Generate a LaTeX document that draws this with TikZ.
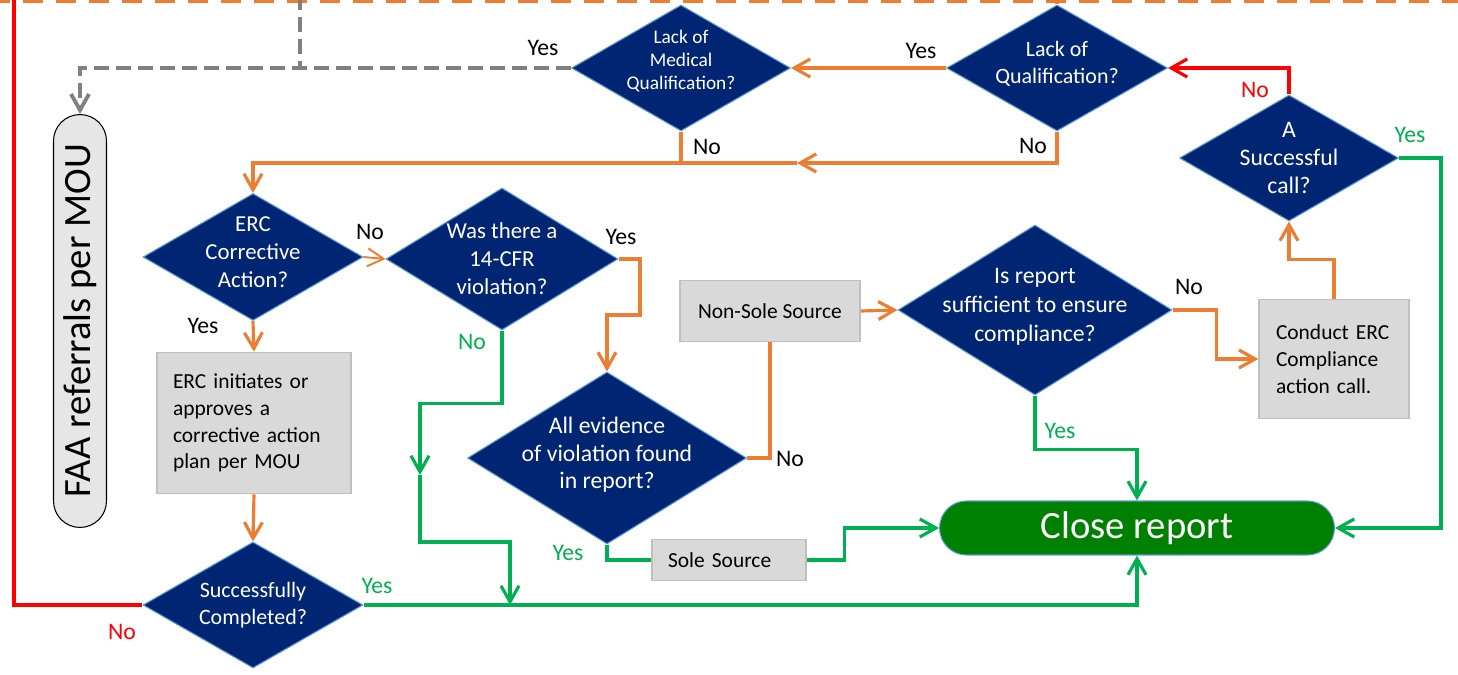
\documentclass[tikz,border=0pt]{standalone}
\usepackage{fontspec}
\setmainfont{Carlito}
\usetikzlibrary{shapes.geometric,arrows.meta,positioning}

\definecolor{qblue}{RGB}{0,38,115}
\definecolor{qedge}{RGB}{91,155,213}
\definecolor{flowor}{RGB}{237,125,49}
\definecolor{flowgr}{RGB}{0,176,80}
\definecolor{flowrd}{RGB}{255,0,0}
\definecolor{flowgy}{RGB}{128,128,128}
\definecolor{boxfill}{RGB}{217,217,217}
\definecolor{boxedge}{RGB}{191,191,191}
\definecolor{faafill}{RGB}{231,230,230}
\definecolor{closegr}{RGB}{0,128,0}

\tikzstyle{decision} = [diamond, draw=qedge, line width=0.6pt, fill=qblue, text=white, align=center, inner sep=-14pt, font=\fontsize{13}{16}\selectfont]
\tikzstyle{block} = [rectangle, draw=boxedge, line width=0.9pt, fill=boxfill, font=\fontsize{12.2}{15.2}\selectfont]
\tikzstyle{terminal} = [rectangle, rounded corners=0.54cm, draw=qedge, line width=0.6pt, fill=closegr, text=white, font=\fontsize{22}{26}\selectfont]
\tikzstyle{arrow} = [draw, line width=1.8pt, -{Straight Barb[length=3.2mm,width=3.6mm]}]
\tikzstyle{line} = [draw, line width=1.8pt]
\tikzstyle{answer} = [inner sep=0pt, font=\fontsize{13.5}{16}\selectfont]

\begin{document}
\begin{tikzpicture}[x=0.02cm, y=-0.02cm]
    \useasboundingbox (0,0) rectangle (1458,675);

    % questions
    \node[decision, minimum width=4.38cm, minimum height=2.52cm, text depth=0.33cm, font=\fontsize{11}{13.2}\selectfont] (lmq) at (681,68) {Lack of\\Medical\\Qualification?};
    \node[decision, minimum width=4.42cm, minimum height=2.52cm, text depth=0.21cm, font=\fontsize{12.5}{15.5}\selectfont] (loq) at (1057,68) {Lack of\\Qualification?};
    \node[decision, minimum width=4.38cm, minimum height=2.52cm, font=\fontsize{13.5}{15.8}\selectfont] (asc) at (1289,158) {A\\Successful\\call?};
    \node[decision, minimum width=4.4cm, minimum height=2.54cm, text depth=0.2cm] (ercq) at (253,257) {ERC\\Corrective\\Action?};
    \node[decision, minimum width=4.64cm, minimum height=2.84cm] (was) at (502,259) {Was there a\\14-CFR\\violation?};
    \node[decision, minimum width=5.58cm, minimum height=3.44cm, text depth=0.2cm, font=\fontsize{13.5}{15.8}\selectfont] (allev) at (607,458) {All evidence\\of violation found\\in report?};
    \node[decision, minimum width=5.48cm, minimum height=3.4cm, text depth=0.2cm, font=\fontsize{13.5}{16.5}\selectfont] (isrep) at (1035,310) {Is report\\sufficient to ensure\\compliance?};
    \node[decision, minimum width=4.4cm, minimum height=2.52cm, font=\fontsize{12.5}{15}\selectfont] (sc) at (253,605) {Successfully\\Completed?};

    % actions
    \node[block, minimum width=3.88cm, minimum height=2.82cm, inner xsep=0.32cm, text width=3.24cm, align=left] (ercbox) at (254,423) {ERC initiates or\\approves a\\corrective action\\plan per MOU};
    \node[block, minimum width=3.6cm, minimum height=1.22cm] (nonsole) at (770,311) {Non-Sole Source};
    \node[block, minimum width=3.08cm, minimum height=0.82cm, inner xsep=0.32cm, text width=2.44cm, align=left] (sole) at (729,560) {Sole Source};
    \node[block, minimum width=3cm, minimum height=2.38cm, inner xsep=0.34cm, text width=2.32cm, align=left] (conduct) at (1334,359) {Conduct ERC\\Compliance\\action call.};
    \node[terminal, minimum width=7.9cm, minimum height=1.08cm] (close) at (1137,528) {Close report};
    \node[rectangle, rounded corners=0.53cm, draw=black, line width=0.6pt, fill=faafill, rotate=90, minimum width=8.26cm, minimum height=1.06cm, inner sep=0pt, font=\fontsize{22}{26}\selectfont] (faa) at (80,321) {FAA referrals per MOU};

    % free ends
    \coordinate (topl) at (-10,1);
    \coordinate (topr) at (1470,1);
    \coordinate (grayup) at (300,-5);
    \coordinate (redup) at (14,-5);
    \coordinate (nojoin) at (797,163);
    \coordinate (yesbend) at (640,315);
    \coordinate (nodrop) at (420,475);
    \coordinate (nomerge) at (510,605);

    % lines
    \draw[line, flowor, line width=2.8pt, dash pattern=on 0.4cm off 0.26cm] (topl) -- (topr);
    \draw[line, flowor, line width=2.8pt] (loq.north) -- (loq.north |- topr);
    \draw[line, flowgy, line width=2.2pt, dash pattern=on 0.3cm off 0.14cm] (grayup) -- (grayup |- lmq.west);
    \draw[arrow, flowgy, line width=2.2pt, dash pattern=on 0.3cm off 0.14cm] (lmq.west) -| (faa.east);
    \draw[line, flowrd] (sc.west) -| (redup);

    \draw[arrow, flowor] (loq.west) -- (lmq.east);
    \draw[arrow, flowor] (loq.south) |- (nojoin);
    \draw[line, flowor] (lmq.south) -- (lmq.south |- nojoin);
    \draw[arrow, flowor] (nojoin) -| (ercq.north);
    \draw[arrow, flowor, line width=1.1pt] (ercq.east) -- (was.west);
    \draw[arrow, flowor] (ercq.south) -- (ercbox.north);
    \draw[arrow, flowor] (ercbox.south) -- (sc.north);
    \draw[arrow, flowor] (was.east) -| (yesbend) -| (allev.north);
    \draw[line, flowor] (allev.east) -| (nonsole.south);
    \draw[arrow, flowor] (nonsole.east) -- (isrep.west);
    \draw[arrow, flowor] (isrep.east) -- ++(44,0) |- (conduct.west);
    \draw[arrow, flowor] (conduct.north) -- ++(0,-39) -| (asc.south);
    \draw[arrow, flowrd] (asc.north) |- (loq.east);

    \draw[arrow, flowgr] (asc.east) -- ++(42,0) |- (close.east);
    \draw[arrow, flowgr] (isrep.south) -- ++(0,54) -| (close.north);
    \draw[arrow, flowgr] (sc.east) -| (close.south);
    \draw[line, flowgr] (allev.south) |- (sole.west);
    \draw[arrow, flowgr] (sole.east) -- ++(38,0) |- (close.west);
    \draw[arrow, flowgr] (was.south) -- ++(0,73) -| (nodrop);
    \draw[arrow, flowgr] (nodrop) -- ++(0,67) -| (nomerge);

    % answers
    \node[answer] (lmqyes) at (543,48) {Yes};
    \node[answer] (loqyes) at (921,51) {Yes};
    \node[answer] (lmqno) at (707,147) {No};
    \node[answer] (loqno) at (1033,146) {No};
    \node[answer, text=flowrd] (ascno) at (1255,90) {No};
    \node[answer, text=flowgr] (ascyes) at (1410,135) {Yes};
    \node[answer] (ercqno) at (370,232) {No};
    \node[answer] (ercqyes) at (203,326) {Yes};
    \node[answer, text=flowgr] (wasno) at (472,342) {No};
    \node[answer] (wasyes) at (621,237) {Yes};
    \node[answer] (allevno) at (790,459) {No};
    \node[answer, text=flowgr] (allevyes) at (568,553) {Yes};
    \node[answer, text=flowgr] (scyes) at (377,586) {Yes};
    \node[answer, text=flowrd] (scno) at (122,632) {No};
    \node[answer, text=flowgr] (isrepyes) at (1060,431) {Yes};
    \node[answer] (isrepno) at (1189,287) {No};
\end{tikzpicture}
\end{document}
